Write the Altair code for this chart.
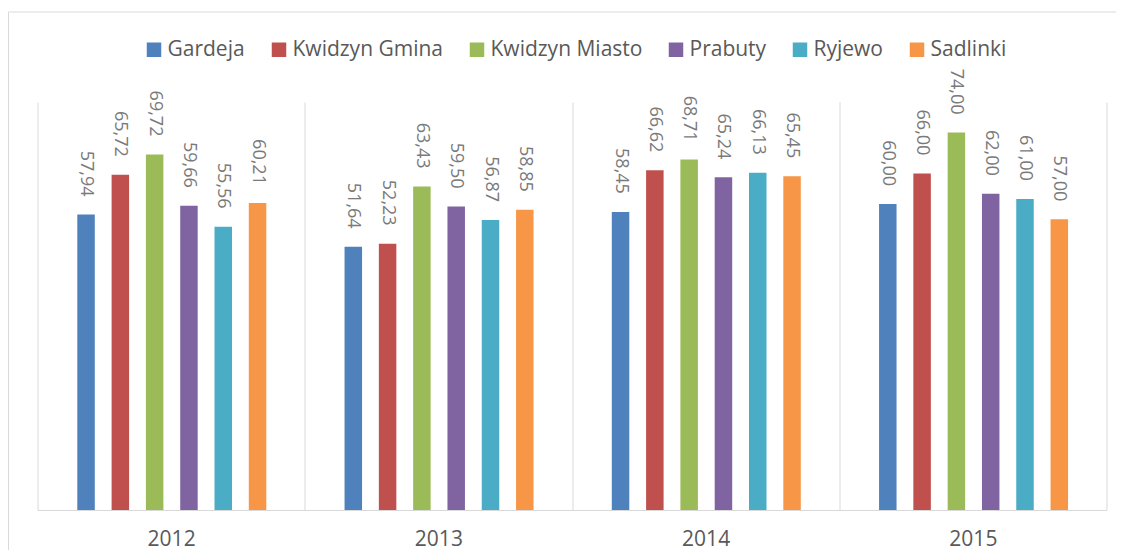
import altair as alt
import pandas as pd

years = ["2012", "2013", "2014", "2015"]
series = ["Gardeja", "Kwidzyn Gmina", "Kwidzyn Miasto", "Prabuty", "Ryjewo", "Sadlinki"]
colors = ["#4F81BD", "#C0504D", "#9BBB59", "#8064A2", "#4BACC6", "#F79646"]

gardeja = [57.94, 51.64, 58.45, 60.00]
kwidzyn_gmina = [65.72, 52.23, 66.62, 66.00]
kwidzyn_miasto = [69.72, 63.43, 68.71, 74.00]
prabuty = [59.66, 59.50, 65.24, 62.00]
ryjewo = [55.56, 56.87, 66.13, 61.00]
sadlinki = [60.21, 58.85, 65.45, 57.00]

values = [gardeja, kwidzyn_gmina, kwidzyn_miasto, prabuty, ryjewo, sadlinki]

rows = []
for s, vals in zip(series, values):
    for y, v in zip(years, vals):
        rows.append({"year": y, "series": s, "value": v,
                     "label": f"{v:.2f}".replace(".", ",")})
df = pd.DataFrame(rows)

FONT = "Open Sans"

base = alt.Chart(df).encode(
    x=alt.X(
        "year:N", sort=years, title=None,
        scale=alt.Scale(paddingInner=0, paddingOuter=0),
        axis=alt.Axis(
            labelAngle=0, grid=True, tickBand="extent", ticks=False, tickSize=0,
            domainColor="#d9d9d9", gridColor="#d9d9d9", domainWidth=1, gridWidth=1,
            labelFont=FONT, labelFontSize=21, labelColor="#595959", labelPadding=18,
        ),
    ),
    xOffset=alt.XOffset(
        "series:N", sort=series,
        scale=alt.Scale(range=[39.8, 228.8], paddingInner=0.49, paddingOuter=0),
    ),
    y=alt.Y("value:Q", scale=alt.Scale(domain=[0, 80]), axis=None),
)

bars = base.mark_bar().encode(
    color=alt.Color(
        "series:N", sort=series,
        scale=alt.Scale(domain=series, range=colors),
        legend=alt.Legend(
            title=None, orient="none", legendX=106, legendY=-63,
            direction="horizontal", symbolType="square", symbolSize=210,
            symbolStrokeWidth=0, labelFont=FONT, labelFontSize=21,
            labelColor="#595959", labelOffset=3, columnPadding=23, padding=0,
        ),
    )
)

labels = base.mark_text(
    angle=90, align="right", baseline="middle", dx=-18,
    font=FONT, fontSize=18, color="#7a7a7a",
).encode(text="label:N")

frame_df = pd.DataFrame({"k": [0]})
frame_left = alt.Chart(frame_df).mark_rule(color="#d9d9d9", strokeWidth=1).encode(
    x=alt.value(-29), y=alt.value(-90), y2=alt.value(460)
)
frame_top = alt.Chart(frame_df).mark_rule(color="#d9d9d9", strokeWidth=1).encode(
    x=alt.value(-29), x2=alt.value(1080), y=alt.value(-90)
)

chart = alt.layer(frame_left, frame_top, bars, labels).properties(
    width=1069, height=408,
    padding={"left": 29.5, "top": 94, "right": 9, "bottom": 40},
    autosize=alt.AutoSizeParams(type="none"),
).configure_view(stroke="transparent")

chart.save("out.html", embed_options={"renderer": "svg", "actions": False})
